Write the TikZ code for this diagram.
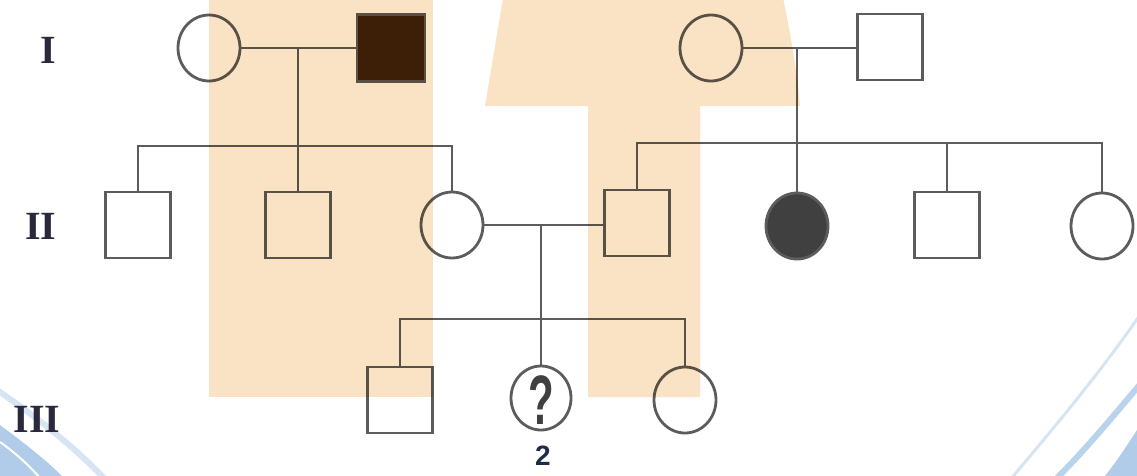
\documentclass[tikz,border=0pt]{standalone}
\usepackage{fontspec}
\newfontfamily\serifb{Liberation Serif}
\newfontfamily\sansb{Liberation Sans}
\usetikzlibrary{shapes.geometric}
\definecolor{wmorange}{RGB}{250,226,196}
\definecolor{linegray}{RGB}{92,92,92}
\definecolor{affmale}{RGB}{62,36,8}
\definecolor{afffem}{RGB}{64,64,64}
\definecolor{genlabel}{RGB}{42,40,60}
\definecolor{bluethin}{RGB}{214,228,243}
\definecolor{bluemid}{RGB}{184,211,235}
\definecolor{bluefill}{RGB}{176,204,232}
\definecolor{numblue}{RGB}{30,44,72}
\tikzset{
  pline/.style={draw=linegray, line width=2.8pt},
  male/.style={rectangle, draw=linegray, line width=2.8pt, minimum width=65pt, minimum height=66pt, inner sep=0pt},
  female/.style={ellipse, draw=linegray, line width=2.8pt, minimum width=62pt, minimum height=66pt, inner sep=0pt},
  gen/.style={text=genlabel, font=\serifb\bfseries\fontsize{40}{40}\selectfont, inner sep=0pt},
}
\begin{document}
\begin{tikzpicture}[x=1pt,y=-1pt]
\useasboundingbox (0,0) rectangle (1137,475);
\clip (0,0) rectangle (1137,475);
% watermark background arcs
\draw[bluethin, line width=3pt] (1142,312) .. controls (1095,380) and (1050,432) .. (1010,480);
\draw[bluemid, line width=6pt] (1142,382) .. controls (1110,420) and (1085,450) .. (1055,480);
\fill[bluefill] (1137,430) .. controls (1126,447) and (1116,462) .. (1105,476) -- (1137,476) -- cycle;
\draw[bluethin, line width=6pt] (-3,390) .. controls (38,418) and (72,445) .. (106,480);
\fill[bluefill] (0,425) .. controls (20,440) and (44,458) .. (62,476) -- (0,476) -- cycle;
\draw[white, line width=2pt] (0,442) .. controls (14,452) and (28,464) .. (40,478);

% generation labels
\node[gen] (gI) at (48,50) {I};
\node[gen] (gII) at (41,226) {II};
\node[gen] (gIII) at (37,419) {III};

% generation I
\node[female] (I1) at (209,48) {};
\node[male, fill=affmale, minimum width=68pt, minimum height=67pt] (I2) at (391,48) {};
\node[female] (I3) at (711,48) {};
\node[male] (I4) at (890,47) {};
% generation II
\node[male] (II1) at (138,225) {};
\node[male] (II2) at (298,225) {};
\node[female] (II3) at (452,225) {};
\node[male] (II4) at (637,223) {};
\node[female, fill=afffem] (II5) at (797,226) {};
\node[male] (II6) at (947,225) {};
\node[female] (II7) at (1102,226) {};
% generation III
\node[male] (III1) at (400,400) {};
\node[female, minimum width=60pt, minimum height=64pt] (III2) at (541,398) {};
\node[female] (III3) at (685,400) {};
\node[text=afffem, inner sep=0pt, font=\sansb\bfseries\fontsize{70}{70}\selectfont, xscale=0.6] (q) at (541,400) {?};
\node[text=numblue, inner sep=0pt, font=\sansb\bfseries\fontsize{28}{28}\selectfont] (n2) at (543,456) {2};

% junction coordinates
\coordinate (m1) at (298,48);
\coordinate (s1) at (298,146);
\coordinate (m2) at (797,48);
\coordinate (s2) at (797,143);
\coordinate (m3) at (541,224);
\coordinate (s3) at (541,319);

% connectors
\draw[pline] (I1.east) -- (I2.west);
\draw[pline] (m1) -- (II2.north);
\draw[pline] (II1.north) |- (s1) -| (II3.north);
\draw[pline] (I3.east) -- (I4.west |- I3.east);
\draw[pline] (m2) -- (II5.north);
\draw[pline] (II4.north) |- (s2) -| (II7.north);
\draw[pline] (II6.north) -- (II6.north |- s2);
\draw[pline] (II3.east) -- (II4.west |- II3.east);
\draw[pline] (m3) -- (III2.north);
\draw[pline] (III1.north) |- (s3) -| (III3.north);

% orange watermark, multiplied over the drawing
\begin{scope}[blend mode=multiply]
\fill[wmorange] (209,0) rectangle (433,397);
\fill[wmorange] (503,-2) -- (783,-2) .. controls (792,40) and (798,80) .. (800,106) -- (700,106) -- (700,397) -- (588,397) -- (588,106) -- (485,106) -- cycle;
\end{scope}
\end{tikzpicture}
\end{document}
